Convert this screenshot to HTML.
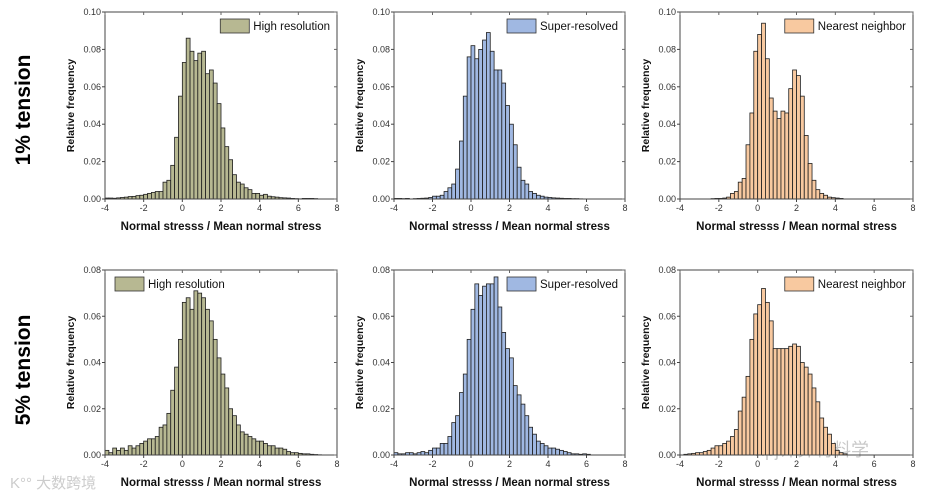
<!DOCTYPE html>
<html><head><meta charset="utf-8"><style>
html,body{margin:0;padding:0;background:#fff;width:933px;height:495px;overflow:hidden}
svg text{font-family:"Liberation Sans","Noto Sans CJK SC",sans-serif}
</style></head><body>
<svg id="fig" width="933" height="495" viewBox="0 0 933 495" xmlns="http://www.w3.org/2000/svg">
<text transform="translate(30,110) rotate(-90)" text-anchor="middle" font-size="21" font-weight="bold">1% tension</text>
<text transform="translate(30,370) rotate(-90)" text-anchor="middle" font-size="21" font-weight="bold">5% tension</text>
<text x="10" y="488" font-size="15" fill="#ccc">K°° 大数跨境</text>
<text x="755" y="456" font-size="18" fill="#bbb" opacity="0.8">npj计算材料学</text>
</svg>
<script>
const binStart = -4, binWidth = 0.2;
const xTicks = [-4,-2,0,2,4,6,8];
const yTicksRow1 = ["0.00","0.02","0.04","0.06","0.08","0.10"];
const yTicksRow2 = ["0.00","0.02","0.04","0.06","0.08"];
const labels = ["High resolution","Super-resolved","Nearest neighbor"];
const hr1 = [0.0005,0.0005,0.0004,0.0006,0.0008,0.001,0.0013,0.0014,0.0018,0.002,0.0025,0.003,0.0035,0.004,0.004,0.009,0.010,0.018,0.033,0.055,0.073,0.086,0.079,0.074,0.078,0.079,0.067,0.069,0.062,0.051,0.038,0.028,0.021,0.013,0.009,0.008,0.006,0.005,0.003,0.003,0.002,0.0025,0.0015,0.0012,0.001,0.0007,0.0006,0.0005,0.0003,0.0002,0.0001,0.0003,0.0003,0.0003,0.0002,0,0,0,0,0];
const sr1 = [0.0003,0.0003,0.0002,0.0003,0,0.0002,0.0003,0.0004,0.0005,0.0008,0.0015,0.0015,0.002,0.004,0.006,0.008,0.016,0.031,0.055,0.076,0.082,0.075,0.080,0.085,0.089,0.079,0.069,0.069,0.062,0.050,0.040,0.029,0.017,0.010,0.008,0.004,0.003,0.002,0.0015,0.001,0.0008,0.0006,0.0005,0.0004,0.0003,0.0003,0.0002,0.0002,0.0001,0,0,0,0,0,0,0,0,0,0,0];
const nn1 = [0,0,0,0,0,0,0,0,0.0002,0.0003,0.0003,0.0005,0.001,0.003,0.004,0.009,0.011,0.029,0.046,0.079,0.088,0.094,0.075,0.054,0.047,0.043,0.047,0.046,0.059,0.069,0.066,0.055,0.034,0.019,0.010,0.005,0.003,0.002,0.001,0.0007,0.0005,0.0003,0,0,0,0,0,0,0,0,0,0,0,0,0,0,0,0,0,0];
const hr5 = [0.002,0.001,0.003,0.002,0.003,0.002,0.004,0.003,0.004,0.005,0.006,0.007,0.007,0.008,0.012,0.013,0.018,0.028,0.038,0.050,0.066,0.068,0.063,0.071,0.070,0.068,0.063,0.058,0.050,0.042,0.035,0.029,0.020,0.017,0.013,0.010,0.009,0.008,0.007,0.006,0.006,0.005,0.004,0.004,0.003,0.003,0.0025,0.0015,0.001,0.001,0.0007,0.0005,0.0005,0.0003,0.0002,0.0001,0,0,0,0];
const sr5 = [0.001,0.0005,0.0005,0.001,0.001,0.0005,0.001,0.0015,0.001,0.002,0.003,0.003,0.005,0.005,0.008,0.014,0.017,0.027,0.035,0.050,0.063,0.074,0.069,0.073,0.074,0.074,0.077,0.064,0.053,0.046,0.042,0.030,0.026,0.022,0.017,0.012,0.009,0.006,0.005,0.004,0.003,0.003,0.0025,0.002,0.0015,0.001,0.0005,0.0005,0.0003,0.0005,0.0003,0,0,0,0,0,0,0,0,0];
const nn5 = [0,0.0003,0.0005,0.0007,0.001,0.001,0.0015,0.002,0.003,0.004,0.004,0.005,0.006,0.008,0.011,0.019,0.025,0.034,0.050,0.061,0.065,0.072,0.066,0.058,0.046,0.046,0.046,0.046,0.047,0.048,0.047,0.040,0.038,0.035,0.029,0.023,0.016,0.012,0.009,0.005,0.002,0.001,0.0005,0,0,0,0,0,0,0,0,0,0,0,0,0,0,0,0,0];

const NS = "http://www.w3.org/2000/svg";
const svg = document.getElementById("fig");
function mk(tag, attrs, parent){const e=document.createElementNS(NS,tag);for(const k in attrs)e.setAttribute(k,attrs[k]);(parent||svg).appendChild(e);return e;}
const fills = ["#b7b892","#a0b8e2","#f8c9a0"];
const cols = [[105,337],[394,625],[680,913]];
const rows = [[12,199,0.10,yTicksRow1,[hr1,sr1,nn1]],[270,455,0.08,yTicksRow2,[hr5,sr5,nn5]]];

rows.forEach((r,ri)=>{
  const [top,bot,ymax,yt,series]=r;
  cols.forEach((c,ci)=>{
    const [L,R]=c;
    const g = mk("g",{});
    
    
    const xs = v => L + (v - (-4)) / 12 * (R - L);
    const ys = v => bot - v / ymax * (bot - top);
    const vals = series[ci];
    vals.forEach((v,i)=>{
      if(v<=0) return;
      const x0 = xs(binStart+i*binWidth), x1 = xs(binStart+(i+1)*binWidth);
      const b = mk("rect",{x:x0,y:ys(v),width:x1-x0,height:bot-ys(v),fill:fills[ci],stroke:"#1e1e1e","stroke-width":0.8},g);
      
      
    });
    const frame = mk("rect",{x:L,y:top,width:R-L,height:bot-top,fill:"none",stroke:"#444","stroke-width":1},g);
    
    
    xTicks.forEach(t=>{
      const x=xs(t);
      mk("line",{x1:x,x2:x,y1:bot,y2:bot+3,stroke:"#444"},g);
      mk("line",{x1:x,x2:x,y1:top,y2:top+3,stroke:"#666"},g);
      const tl = mk("text",{x:x,y:bot+12,"text-anchor":"middle","font-size":9,fill:"#333"},g);
      tl.textContent=t;
      
      
    });
    yt.forEach(t=>{
      const y=ys(parseFloat(t));
      mk("line",{x1:L-3,x2:L,y1:y,y2:y,stroke:"#444"},g);
      mk("line",{x1:R-3,x2:R,y1:y,y2:y,stroke:"#666"},g);
      const tl = mk("text",{x:L-4,y:y+3,"text-anchor":"end","font-size":9,fill:"#333"},g);
      tl.textContent=t;
      
      
    });
    const xt = mk("text",{x:(L+R)/2,y:bot+31,"text-anchor":"middle","font-size":11.5,"font-weight":"bold",fill:"#111"},g);
    xt.textContent="Normal stresss / Mean normal stress";
    
    
    const ytl = mk("text",{transform:"translate("+(L-31)+","+((top+bot)/2)+") rotate(-90)","text-anchor":"middle","font-size":10.5,"font-weight":"bold",fill:"#111"},g);
    ytl.textContent="Relative frequency";
    
    
    // legend
    const ly = top+8;
    const lt = mk("text",{y:ly+10,"font-size":11.5,fill:"#111"},g);
    lt.textContent=labels[ci];
    
    
    const tw = lt.getComputedTextLength();
    let tx;
    if(ri===1 && ci===0){ tx = L+43; } else { tx = R - 7 - tw; }
    lt.setAttribute('x', tx);
    const lb = mk("rect",{x:tx-33,y:ly-1,width:29,height:14,fill:fills[ci],stroke:"#333","stroke-width":0.8},g);
    
    
  });
});
</script>
</body></html>
